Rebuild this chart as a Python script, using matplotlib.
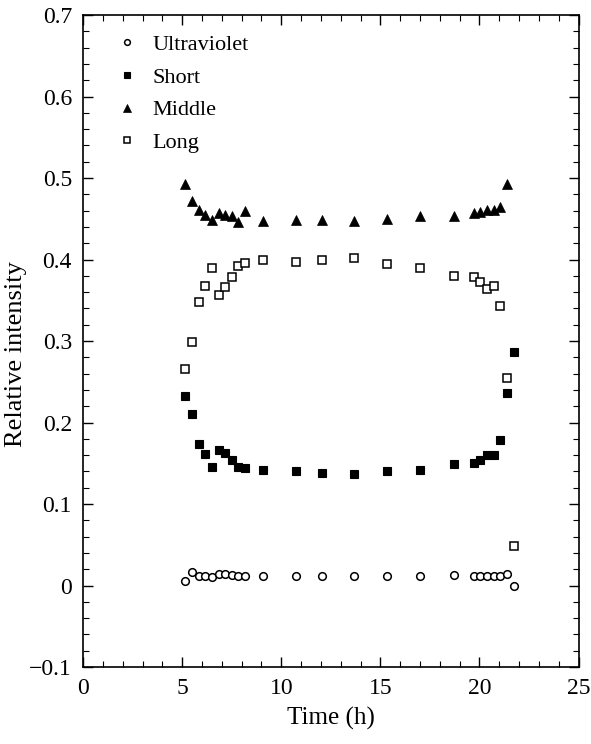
import matplotlib
matplotlib.use("Agg")
import matplotlib.pyplot as plt
from matplotlib.ticker import MultipleLocator, FuncFormatter

plt.rcParams['font.family'] = ['Liberation Serif', 'DejaVu Serif']
plt.rcParams['axes.unicode_minus'] = True

time = [5.15, 5.5, 5.83, 6.17, 6.5, 6.84, 7.17, 7.52, 7.84, 8.16,
        9.06, 10.73, 12.04, 13.67, 15.35, 17.02, 18.7, 19.7, 20.05, 20.38,
        20.73, 21.06, 21.4, 21.72]
ultraviolet = [0.005, 0.016, 0.012, 0.012, 0.011, 0.014, 0.014, 0.013, 0.012, 0.012,
               0.012, 0.012, 0.012, 0.012, 0.012, 0.012, 0.013, 0.012, 0.012, 0.012,
               0.012, 0.012, 0.014, 0.0]
short = [0.233, 0.210, 0.174, 0.161, 0.146, 0.166, 0.162, 0.154, 0.146, 0.144,
         0.142, 0.140, 0.138, 0.137, 0.140, 0.142, 0.149, 0.150, 0.154, 0.160,
         0.160, 0.179, 0.236, 0.286]
middle = [0.493, 0.472, 0.461, 0.455, 0.449, 0.457, 0.455, 0.453, 0.446, 0.459,
          0.447, 0.448, 0.449, 0.447, 0.450, 0.453, 0.454, 0.457, 0.458, 0.461,
          0.461, 0.464, 0.493]
long_ = [0.266, 0.299, 0.348, 0.367, 0.389, 0.357, 0.366, 0.378, 0.392, 0.396,
         0.399, 0.397, 0.400, 0.402, 0.395, 0.389, 0.380, 0.378, 0.373, 0.364,
         0.367, 0.343, 0.255, 0.048]

fig = plt.figure(figsize=(5.91, 7.44), dpi=100)
ax = fig.add_axes([0.1405, 0.1035, 0.8385, 0.8763])

ax.plot(time, ultraviolet, 'o', ms=5.5, mfc='white', mec='black', mew=1.1,
        linestyle='none', label='Ultraviolet')
ax.plot(time, short, 's', ms=5.8, mfc='black', mec='black', mew=0.8,
        linestyle='none', label='Short')
ax.plot(time[:len(middle)], middle, '^', ms=6.8, mfc='black', mec='black', mew=0.5,
        linestyle='none', label='Middle')
ax.plot(time, long_, 's', ms=6, mfc='white', mec='black', mew=1.1,
        linestyle='none', label='Long')

ax.set_xlim(0, 25)
ax.set_ylim(-0.1, 0.7)
ax.xaxis.set_major_locator(MultipleLocator(5))
ax.xaxis.set_minor_locator(MultipleLocator(1))
ax.yaxis.set_major_locator(MultipleLocator(0.1))
ax.yaxis.set_minor_locator(MultipleLocator(0.02))

def yfmt(v, pos):
    s = '%g' % round(v, 2)
    return s.replace('-', '\u2212')
ax.yaxis.set_major_formatter(FuncFormatter(yfmt))

ax.tick_params(which='both', direction='in', top=True, right=True, labelsize=17)
ax.tick_params(which='major', length=7, width=1, pad=8)
ax.tick_params(which='minor', length=4, width=0.8)
for sp in ax.spines.values():
    sp.set_linewidth(1.2)

ax.set_xlabel('Time (h)', fontsize=18)
ax.set_ylabel('Relative intensity', fontsize=19)
ax.xaxis.set_label_coords(0.5, -0.061)
ax.yaxis.set_label_coords(-0.113, 0.48)

leg = ax.legend(loc='upper left', frameon=False, fontsize=16, markerscale=0.75,
                handlelength=1.0, handletextpad=0.63, labelspacing=0.55,
                borderaxespad=1.1, bbox_to_anchor=(0.0, 1.0215))

fig.savefig('out.png', dpi=100)
